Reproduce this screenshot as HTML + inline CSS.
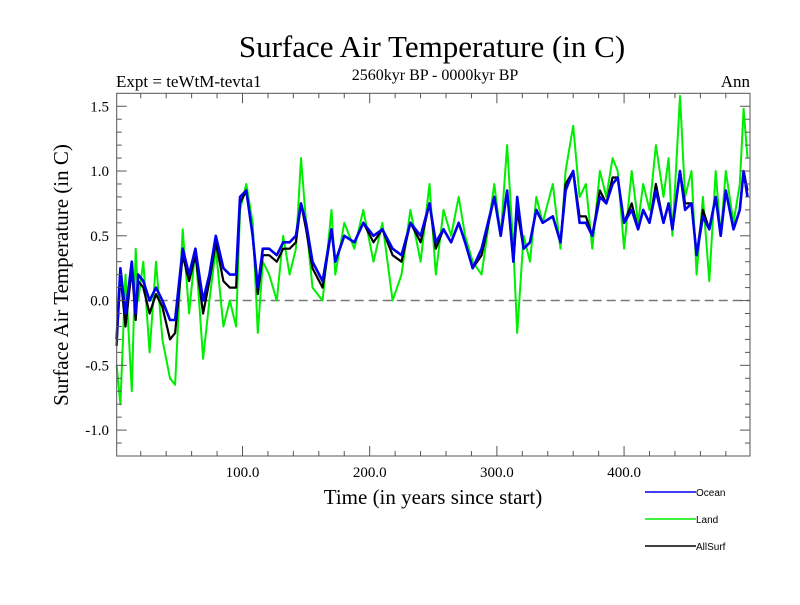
<!DOCTYPE html>
<html><head><meta charset="utf-8"><style>
body{margin:0;background:#fff}
svg text{font-family:"Liberation Serif",serif}
</style></head><body>
<svg id="chart" width="800" height="600" viewBox="0 0 800 600" xmlns="http://www.w3.org/2000/svg">
<rect width="800" height="600" fill="#fff"/>
<text x="432" y="57" font-size="31" text-anchor="middle">Surface Air Temperature (in C)</text>
<text x="435" y="80" font-size="16" text-anchor="middle">2560kyr BP - 0000kyr BP</text>
<text x="116" y="87" font-size="17">Expt = teWtM-tevta1</text>
<text x="750" y="87" font-size="17" text-anchor="end">Ann</text>
<text transform="translate(68,275) rotate(-90)" font-size="21" text-anchor="middle">Surface Air Temperature (in C)</text>
<text x="433" y="504" font-size="21" text-anchor="middle">Time (in years since start)</text>
<g id="plot"></g>
<g id="axes"></g>
<g id="legend"></g>
</svg>
<script>
const years=[1,4,8,13,16,18,22,27,32,37,43,47,53,58,63,69,74,79,85,90,95,98,103,108,112,116,121,127,132,137,142,146,150,155,163,170,173,180,188,195,203,210,218,225,232,240,247,252,258,264,270,275,281,288,298,303,308,313,316,321,326,331,336,344,350,354,360,365,370,375,381,386,391,395,400,406,411,415,420,425,431,435,438,444,448,453,457,462,467,472,476,480,486,491,494,497];
const ocean=[-0.3,0.25,-0.1,0.3,-0.1,0.2,0.15,0.0,0.1,0.0,-0.15,-0.15,0.4,0.2,0.4,0.0,0.2,0.5,0.25,0.2,0.2,0.8,0.85,0.5,0.1,0.4,0.4,0.35,0.45,0.45,0.5,0.75,0.6,0.3,0.15,0.55,0.3,0.5,0.45,0.6,0.5,0.55,0.4,0.35,0.6,0.5,0.75,0.45,0.55,0.45,0.6,0.45,0.25,0.4,0.8,0.5,0.85,0.3,0.8,0.4,0.45,0.7,0.6,0.65,0.45,0.85,1.0,0.6,0.6,0.5,0.8,0.75,0.9,0.95,0.6,0.7,0.55,0.7,0.6,0.85,0.6,0.75,0.55,1.0,0.7,0.75,0.35,0.65,0.55,0.8,0.5,0.85,0.55,0.7,1.0,0.8];
const land=[-0.5,-0.8,0.2,-0.7,0.4,0.0,0.3,-0.4,0.3,-0.3,-0.6,-0.65,0.55,-0.1,0.4,-0.45,0.0,0.4,-0.2,0.0,-0.2,0.7,0.9,0.6,-0.25,0.3,0.2,0.0,0.5,0.2,0.4,1.1,0.6,0.1,0.0,0.7,0.2,0.6,0.4,0.7,0.3,0.6,0.0,0.2,0.7,0.3,0.9,0.2,0.7,0.5,0.8,0.5,0.3,0.2,0.9,0.5,1.2,0.4,-0.25,0.5,0.3,0.8,0.6,0.9,0.4,1.0,1.35,0.8,0.9,0.4,1.0,0.8,1.1,1.0,0.4,1.0,0.6,0.9,0.7,1.2,0.8,1.1,0.5,1.58,0.8,1.0,0.2,0.8,0.15,1.0,0.5,1.0,0.6,0.9,1.48,1.1];
const allsurf=[-0.35,0.2,-0.2,0.25,-0.15,0.15,0.1,-0.1,0.05,-0.05,-0.3,-0.25,0.35,0.15,0.35,-0.1,0.15,0.45,0.15,0.1,0.1,0.75,0.85,0.5,0.05,0.35,0.35,0.3,0.4,0.4,0.45,0.75,0.55,0.25,0.1,0.55,0.3,0.5,0.45,0.6,0.45,0.55,0.35,0.3,0.6,0.45,0.75,0.4,0.55,0.45,0.6,0.45,0.25,0.35,0.8,0.5,0.85,0.3,0.7,0.4,0.45,0.7,0.6,0.65,0.45,0.9,1.0,0.65,0.65,0.5,0.85,0.75,0.95,0.95,0.6,0.75,0.55,0.7,0.6,0.9,0.6,0.75,0.55,1.0,0.75,0.75,0.35,0.7,0.55,0.8,0.5,0.85,0.55,0.7,1.0,0.85];
const xTicks=[100,200,300,400];
const xTickLabels=["100.0","200.0","300.0","400.0"];
const yTicks=[-1.0,-0.5,0.0,0.5,1.0,1.5];
const yTickLabels=["-1.0","-0.5","0.0","0.5","1.0","1.5"];

const L=116.7,R=750,T=93.3,B=456;
const X0=1.1,X1=499,Y0=-1.2,Y1=1.6;
const sx=v=>L+(v-X0)/(X1-X0)*(R-L);
const sy=v=>B-(v-Y0)/(Y1-Y0)*(B-T);
const NS="http://www.w3.org/2000/svg";
function mk(tag,parent,attrs){const e=document.createElementNS(NS,tag);for(const k in attrs)e.setAttribute(k,attrs[k]);parent.appendChild(e);return e;}
const plot=document.getElementById('plot'),axes=document.getElementById('axes'),leg=document.getElementById('legend');

const zl=mk('line',plot,{x1:L,x2:R,y1:sy(0),y2:sy(0),stroke:'#777','stroke-width':1.5,'stroke-dasharray':'9,5'});



function series(vals,color,name,w){
  const d=vals.map((v,i)=>(i?'L':'M')+sx(years[i]).toFixed(1)+','+sy(v).toFixed(1)).join('');
  const p=mk('path',plot,{d:d,fill:'none',stroke:color,'stroke-width':w,'stroke-linejoin':'round'});
  
  
}
series(land,'#00ee00','land-series',2);
series(allsurf,'#000','allsurf-series',2.2);
series(ocean,'#0000ee','ocean-series',2.6);

const frame=mk('rect',axes,{x:L,y:T,width:R-L,height:B-T,fill:'none',stroke:'#555','stroke-width':1});



for(let v=20;v<X1;v+=20){
  const major=v%100===0,len=major?10:5,x=sx(v);
  mk('line',axes,{x1:x,x2:x,y1:B,y2:B-len,stroke:'#555'});
  mk('line',axes,{x1:x,x2:x,y1:T,y2:T+len,stroke:'#555'});
}
for(let k=-11;k<=15;k++){
  const v=k/10,major=k%5===0,len=major?10:5,y=sy(v);
  mk('line',axes,{x1:L,x2:L+len,y1:y,y2:y,stroke:'#555'});
  mk('line',axes,{x1:R,x2:R-len,y1:y,y2:y,stroke:'#555'});
}
xTicks.forEach((v,i)=>{
  const t=mk('text',axes,{x:sx(v),y:477,'font-size':15,'text-anchor':'middle'});
  t.textContent=xTickLabels[i];
  
  
});
yTicks.forEach((v,i)=>{
  const t=mk('text',axes,{x:109,y:sy(v)+5,'font-size':15,'text-anchor':'end'});
  t.textContent=yTickLabels[i];
  
  
});
[['Ocean','#0000ee',492],['Land','#00ee00',519],['AllSurf','#000',546]].forEach(([n,c,y])=>{
  const g=mk('g',leg,{});
  
  
  mk('line',g,{x1:645,x2:696,y1:y,y2:y,stroke:c,'stroke-width':1.5});
  const t=mk('text',g,{x:696,y:y+4,'font-size':10,style:'font-family:"Liberation Sans",sans-serif'});
  t.textContent=n;
});
</script>
</body></html>
